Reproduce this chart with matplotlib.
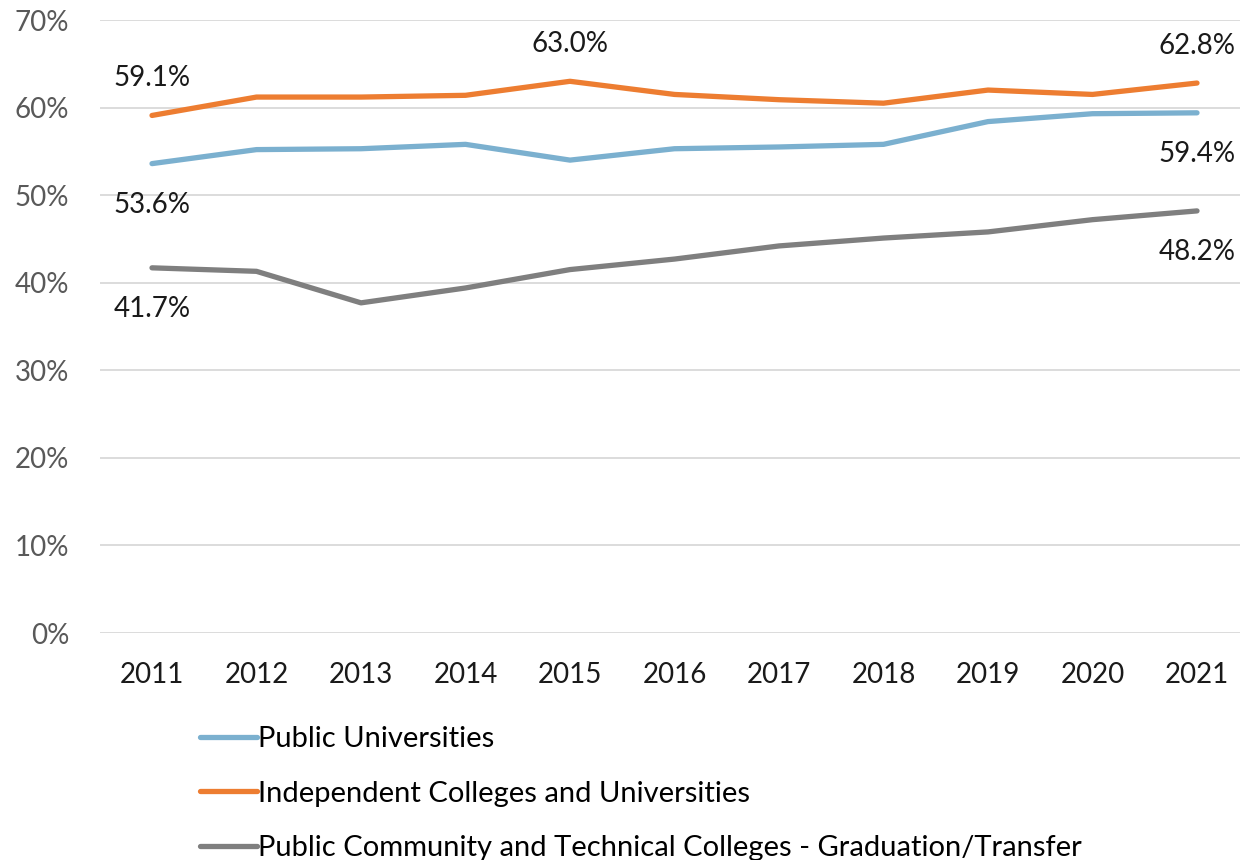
import numpy as np
import matplotlib
matplotlib.use('Agg')
import matplotlib.pyplot as plt
from matplotlib.ticker import FuncFormatter

years = ['2011', '2012', '2013', '2014', '2015', '2016', '2017', '2018', '2019', '2020', '2021']
public_univ = [53.6, 55.2, 55.3, 55.8, 54.0, 55.3, 55.5, 55.8, 58.4, 59.3, 59.4]
independent = [59.1, 61.2, 61.2, 61.4, 63.0, 61.5, 60.9, 60.5, 62.0, 61.5, 62.8]
community = [41.7, 41.3, 37.7, 39.4, 41.5, 42.7, 44.2, 45.1, 45.8, 47.2, 48.2]
series_names = ['Public Universities',
                'Independent Colleges and Universities',
                'Public Community and Technical Colleges - Graduation/Transfer']

# which points get a value label, and whether it sits above or below the line
labels_public = {0: 'below', 10: 'below'}
labels_indep = {0: 'above', 4: 'above', 10: 'above'}
labels_comm = {0: 'below', 10: 'below'}

plt.rcParams['font.family'] = ['Lato', 'DejaVu Sans']

fig = plt.figure(figsize=(12.55, 8.6), dpi=100)
ax = fig.add_axes([100/1255, 1-633/860, 1140/1255, 613/860])

x = np.arange(len(years))
series = [(public_univ, '#7BB0CF', labels_public),
          (independent, '#ED7D31', labels_indep),
          (community, '#7F7F7F', labels_comm)]
for (vals, col, lbls), name in zip(series, series_names):
    ax.plot(x, vals, color=col, lw=3.8, label=name, solid_capstyle='round')
    for i, pos in lbls.items():
        off = 37 if pos == 'above' else -41
        ax.annotate('{:.1f}%'.format(vals[i]), (x[i], vals[i]),
                    textcoords='offset pixels', xytext=(0, off),
                    ha='center', va='center', fontsize=20, color='#1a1a1a')

ax.set_ylim(0, 70)
ax.set_yticks(np.arange(0, 71, 10))
ax.yaxis.set_major_formatter(FuncFormatter(lambda v, p: '{:.0f}%'.format(v)))
ax.set_xlim((100-152)/104.5, (1240-152)/104.5)
ax.set_xticks(x)
ax.set_xticklabels(years)
ax.grid(axis='y', color='#d9d9d9', lw=1.3)
ax.set_axisbelow(True)
for s in ax.spines.values():
    s.set_visible(False)
ax.tick_params(length=0)
ax.tick_params(axis='y', labelsize=20, labelcolor='#595959', pad=22)
ax.tick_params(axis='x', labelsize=20, labelcolor='#1a1a1a', pad=21)

fig.legend(loc='upper left', bbox_to_anchor=(200/1255, 1-726/860),
           frameon=False, fontsize=21, handlelength=1.95, handletextpad=0.05,
           labelspacing=0.98, borderpad=0, borderaxespad=0)

fig.savefig('out.png', dpi=100)
